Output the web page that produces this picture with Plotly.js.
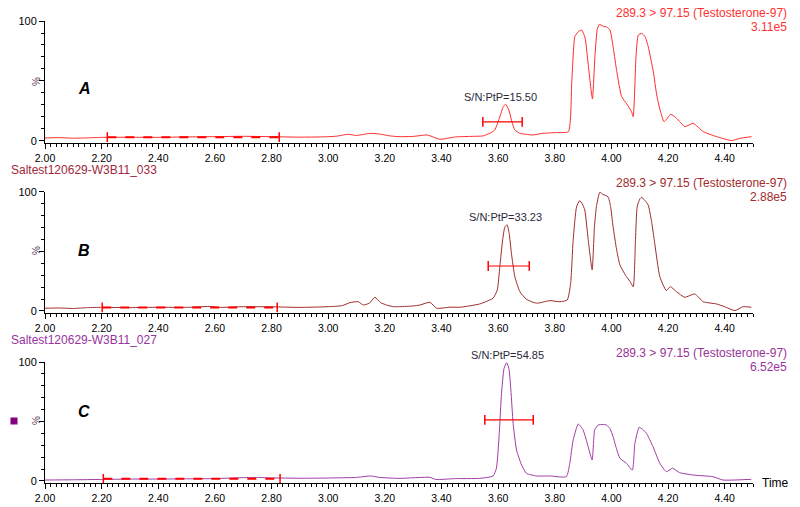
<!DOCTYPE html>
<html>
<head>
<meta charset="utf-8">
<script src="https://cdn.plot.ly/plotly-3.0.1.min.js"></script>
<style>
  html, body { margin: 0; padding: 0; background: #fff; }
  #plot { width: 800px; height: 507px; }
</style>
</head>
<body>
<div id="plot"></div>
<script>
// retention time (min) and relative intensity (%)
var tA = [2.00, 2.05, 2.10, 2.15, 2.20, 2.30, 2.40, 2.50, 2.60, 2.70, 2.80, 2.90, 2.98, 3.03, 3.07, 3.10, 3.15, 3.18, 3.22, 3.25,
  3.30, 3.35, 3.394, 3.45, 3.50, 3.546, 3.571, 3.588, 3.606, 3.618, 3.627, 3.638, 3.647, 3.659, 3.677, 3.700, 3.723, 3.758,
  3.806, 3.848, 3.860, 3.871, 3.883, 3.895, 3.907, 3.918, 3.933, 3.942, 3.950, 3.957, 3.971, 3.983, 3.995, 4.007, 4.019,
  4.036, 4.054, 4.071, 4.077, 4.087, 4.095, 4.107, 4.119, 4.130, 4.148, 4.160, 4.172, 4.186, 4.210, 4.230, 4.260, 4.289,
  4.324, 4.360, 4.383, 4.425, 4.454, 4.495];
var vA = [2.5, 2.8, 2.3, 2.6, 3.0, 3.1, 3.0, 3.4, 3.6, 3.9, 3.6, 3.2, 3.4, 4.0, 5.6, 4.6, 6.4, 5.8, 4.2, 3.6,
  3.8, 5.0, 1.4, 3.4, 3.8, 4.2, 6.4, 9.2, 20.0, 28.6, 30.6, 25.8, 17.5, 9.2, 6.4, 5.5, 5.0, 6.4,
  7.0, 7.8, 49.0, 87.0, 91.0, 92.5, 86.0, 64.0, 35.0, 71.0, 93.0, 97.2, 95.6, 95.0, 92.5, 77.0, 58.0,
  37.0, 31.0, 24.4, 20.3, 71.0, 88.3, 89.7, 86.9, 78.6, 57.8, 38.3, 25.8, 16.1, 22.2, 18.9, 12.0, 14.7,
  7.8, 4.5, 2.8, 0.3, 2.2, 3.6];

var tB = [2.00, 2.05, 2.10, 2.15, 2.20, 2.30, 2.40, 2.50, 2.58, 2.62, 2.70, 2.80, 2.90, 3.00, 3.05, 3.077, 3.106, 3.124, 3.145,
  3.165, 3.185, 3.206, 3.23, 3.253, 3.30, 3.324, 3.359, 3.383, 3.43, 3.465, 3.535, 3.582, 3.597, 3.606, 3.616, 3.624, 3.632,
  3.639, 3.647, 3.659, 3.677, 3.700, 3.736, 3.783, 3.818, 3.844, 3.856, 3.865, 3.877, 3.888, 3.897, 3.906, 3.918, 3.932,
  3.940, 3.947, 3.959, 3.970, 3.988, 3.997, 4.006, 4.018, 4.030, 4.050, 4.065, 4.077, 4.085, 4.091, 4.100, 4.106, 4.118,
  4.130, 4.142, 4.153, 4.171, 4.194, 4.208, 4.230, 4.259, 4.294, 4.324, 4.371, 4.400, 4.436, 4.465, 4.494];
var vB = [2.3, 2.5, 2.1, 2.8, 3.0, 2.8, 3.1, 3.0, 3.8, 3.0, 3.6, 3.5, 3.0, 3.6, 4.5, 7.0, 7.8, 5.0, 6.5,
  11.5, 7.0, 5.0, 3.6, 3.6, 4.2, 5.0, 7.3, 2.3, 3.2, 3.1, 5.9, 10.7, 17.6, 37.2, 59.7, 70.8, 72.3,
  65.3, 48.5, 28.8, 16.2, 9.8, 6.5, 8.7, 7.8, 9.2, 23.0, 59.7, 87.6, 92.7, 90.0, 84.9, 60.0, 34.5,
  70.0, 87.6, 99.7, 98.0, 96.0, 88.0, 70.8, 52.0, 38.7, 30.0, 25.0, 20.4, 60.0, 87.6, 94.0, 95.5, 93.0,
  89.0, 75.0, 56.9, 28.8, 17.1, 20.4, 16.2, 11.5, 14.3, 7.8, 5.9, 3.6, 0.3, 3.6, 3.1];

var tC = [2.00, 2.10, 2.20, 2.30, 2.40, 2.50, 2.60, 2.70, 2.75, 2.80, 2.90, 3.00, 3.10, 3.15, 3.18, 3.253, 3.359, 3.38, 3.45,
  3.535, 3.582, 3.594, 3.604, 3.612, 3.621, 3.630, 3.638, 3.645, 3.653, 3.665, 3.683, 3.700, 3.736, 3.783, 3.841, 3.853,
  3.865, 3.883, 3.900, 3.918, 3.932, 3.941, 3.953, 3.970, 3.983, 3.995, 4.006, 4.018, 4.030, 4.053, 4.074, 4.083, 4.098,
  4.110, 4.124, 4.147, 4.171, 4.194, 4.216, 4.241, 4.288, 4.359, 4.394, 4.494];
var vC = [0.8, 1.0, 1.3, 1.6, 1.6, 1.8, 2.0, 2.8, 3.0, 2.6, 2.3, 2.5, 3.0, 4.2, 3.0, 2.2, 3.1, 1.3, 2.0,
  2.2, 4.2, 10.7, 40.0, 73.7, 94.7, 99.4, 94.7, 76.5, 48.5, 26.0, 13.4, 6.4, 4.2, 4.2, 3.6, 14.9,
  34.5, 47.9, 42.9, 28.8, 17.6, 42.9, 47.0, 47.5, 47.0, 44.0, 37.2, 27.0, 19.1, 14.9, 9.2, 31.7, 45.1,
  43.5, 40.0, 28.8, 14.9, 7.8, 10.7, 7.0, 5.0, 3.6, 0.8, 1.4];

// noise window and peak width markers (start, end, level)
var noiseA = [2.220, 2.827], noiseB = [2.202, 2.820], noiseC = [2.206, 2.830];
var noiseLevel = [3.2, 3.0, 1.8];
var widthA = [3.546, 3.685], widthB = [3.565, 3.710], widthC = [3.553, 3.724];
var widthLevel = [16.0, 37.8, 51.3];

var snText = ['S/N:PtP=15.50', 'S/N:PtP=33.23', 'S/N:PtP=54.85'];
var channel = '289.3 > 97.15 (Testosterone-97)';
var scaleText = ['3.11e5', '2.88e5', '6.52e5'];
var sampleNames = ['Saltest120629-W3B11_033', 'Saltest120629-W3B11_027'];
var panelLetters = ['A', 'B', 'C'];

var colA = '#ff2a2a', colB = '#a02c2c', colC = '#a03ca6';
var FONT = 'Liberation Sans, Arial, sans-serif';

// pixel -> paper helpers (plot area x 45..753, y 21..483)
function P(px) { return (px - 45) / 708; }
function Q(py) { return (483 - py) / 462; }

function curve(x, y, col, xa, ya) {
  return {x: x, y: y, xaxis: xa, yaxis: ya, mode: 'lines',
    line: {color: col, width: 1, shape: 'spline', smoothing: 0.5}, hoverinfo: 'skip'};
}
function bar(x, lvl, col, xa, ya, dash) {
  return {x: x, y: [lvl, lvl], xaxis: xa, yaxis: ya, mode: 'lines+markers',
    line: {color: col, width: dash ? 2 : 1.2, dash: dash ? 'dash' : 'solid'},
    marker: {symbol: 'line-ns-open', size: 7, color: col, line: {color: col, width: 1.5}}, hoverinfo: 'skip'};
}

var data = [
  curve(tA, vA, colA, 'x', 'y'),
  curve(tB, vB, colB, 'x2', 'y2'),
  curve(tC, vC, colC, 'x3', 'y3'),
  bar(noiseA, noiseLevel[0], '#ff0000', 'x', 'y', true),
  bar(noiseB, noiseLevel[1], '#ff0000', 'x2', 'y2', true),
  bar(noiseC, noiseLevel[2], '#ff0000', 'x3', 'y3', true),
  bar(widthA, widthLevel[0], '#ff0000', 'x', 'y', false),
  bar(widthB, widthLevel[1], '#ff0000', 'x2', 'y2', false),
  bar(widthC, widthLevel[2], '#ff0000', 'x3', 'y3', false)
];

function xax(anchor) {
  return {anchor: anchor, range: [2.0, 4.5], dtick: 0.2, tick0: 2.0, tickformat: '.2f', ticks: 'outside',
    ticklen: 5, tickcolor: '#000', showline: true, linecolor: '#000', linewidth: 1, showgrid: false,
    zeroline: false, tickfont: {family: FONT, size: 10.5, color: '#000'},
    minor: {dtick: 0.02, ticks: 'outside', ticklen: 3, tickcolor: '#000', showgrid: false}};
}
function yax(anchor, dom) {
  return {anchor: anchor, domain: dom, range: [-1.7, 100], tickvals: [0, 50, 100], ticktext: ['0', '', '100'],
    ticks: 'outside', ticklen: 5, tickcolor: '#000', showline: true, linecolor: '#000', linewidth: 1,
    showgrid: false, zeroline: false, tickfont: {family: FONT, size: 11, color: '#000'},
    minor: {dtick: 10, ticks: 'outside', ticklen: 3, tickcolor: '#000', showgrid: false}};
}

var annotations = [];
function txt(x, y, text, size, col, xanchor, extra) {
  var a = {xref: 'paper', yref: 'paper', x: x, y: y, text: text, showarrow: false, xanchor: xanchor, yanchor: 'middle',
    font: {family: FONT, size: size, color: col}};
  for (var k in extra) a[k] = extra[k];
  annotations.push(a);
}
var headCol = ['#ff3030', '#a02c2c', '#993399'];
var headY = [13, 183, 353];
var letterY = [88, 250, 411];
var pctY = [82, 251, 421];
var snX = [500, 505, 507];
var snY = [97, 217, 355];
for (var i = 0; i < 3; i++) {
  txt(P(789), Q(headY[i]), channel, 12, headCol[i], 'right');
  txt(P(789), Q(headY[i] + 14), scaleText[i], 12, headCol[i], 'right');
  txt(P(84), Q(letterY[i]), '<b><i>' + panelLetters[i] + '</i></b>', 16, '#000', 'center');
  txt(P(36), Q(pctY[i]), '%', 10, '#5a3a5a', 'center', {textangle: -90});
  txt(P(snX[i]), Q(snY[i]), snText[i], 11, '#2a2a3a', 'center');
}
txt(P(9), Q(170), sampleNames[0], 12, '#a0283a', 'left');
txt(P(9), Q(340), sampleNames[1], 12, '#9932a0', 'left');
txt(P(760), Q(483), 'Time', 12, '#000', 'left');

var layout = {
  width: 800, height: 507,
  margin: {l: 45, r: 47, t: 21, b: 24},
  paper_bgcolor: '#fff', plot_bgcolor: '#fff',
  showlegend: false,
  xaxis: xax('y'), xaxis2: xax('y2'), xaxis3: xax('y3'),
  yaxis: yax('x', [0.7359, 1]), yaxis2: yax('x2', [0.368, 0.6299]), yaxis3: yax('x3', [0, 0.2619]),
  annotations: annotations,
  shapes: [{type: 'rect', xref: 'paper', yref: 'paper', x0: P(10.5), x1: P(17.5), y0: Q(424.5), y1: Q(417.5),
    fillcolor: '#800080', line: {width: 0}}]
};

Plotly.newPlot('plot', data, layout, {displayModeBar: false, staticPlot: true});
</script>
</body>
</html>
